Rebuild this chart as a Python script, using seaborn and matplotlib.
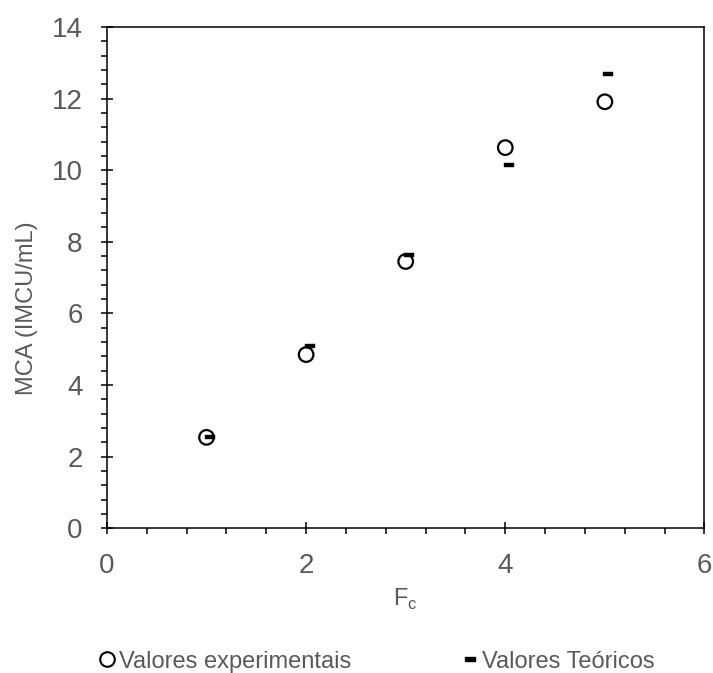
import matplotlib
matplotlib.use("Agg")
import matplotlib.pyplot as plt
import matplotlib.transforms as mtransforms
from matplotlib.ticker import MultipleLocator
from matplotlib.lines import Line2D
import seaborn as sns
import pandas as pd
import numpy as np

fc = [1, 2, 3, 4, 5]
mca_exp = [2.54, 4.85, 7.45, 10.63, 11.91]
mca_teo = [2.54, 5.08, 7.64, 10.15, 12.69]
label_exp = "Valores experimentais"
label_teo = "Valores Teóricos"
x_ticks = [0, 2, 4, 6]
y_ticks = [0, 2, 4, 6, 8, 10, 12, 14]

sns.set_theme(style="white")
plt.rcParams['font.family'] = ['Liberation Sans', 'DejaVu Sans']
plt.rcParams['mathtext.fontset'] = 'custom'
plt.rcParams['mathtext.rm'] = 'Liberation Sans'

df_exp = pd.DataFrame({"Fc": fc, "MCA": mca_exp})
df_teo = pd.DataFrame({"Fc": fc, "MCA": mca_teo})

fig = plt.figure(figsize=(7.13, 6.73), dpi=100)
ax = fig.add_axes([0.150, 0.215, 0.838, 0.745])

grey = "#595959"
dash_verts = [(-1, -0.42), (1, -0.42), (1, 0.42), (-1, 0.42), (-1, -0.42)]

sns.scatterplot(data=df_exp, x="Fc", y="MCA", ax=ax, marker="o", s=110,
                facecolors="none", edgecolor="black", linewidth=1.6, zorder=3)
sns.scatterplot(data=df_teo, x="Fc", y="MCA", ax=ax, marker=dash_verts, s=45,
                color="black", edgecolor="black", linewidth=0.3, zorder=4)
ax.collections[1].set_offset_transform(
    mtransforms.offset_copy(ax.transData, fig=fig, x=2.6, y=0, units='points'))

ax.set_xlim(0, 6)
ax.set_ylim(0, 14)
ax.set_xticks(x_ticks)
ax.set_yticks(y_ticks)
ax.xaxis.set_minor_locator(MultipleLocator(0.4))
ax.yaxis.set_minor_locator(MultipleLocator(0.4))
ax.tick_params(axis='both', which='major', direction='inout', length=9, width=1.1,
               color='black', labelsize=20, labelcolor=grey, pad=13,
               bottom=True, left=True)
ax.tick_params(axis='both', which='minor', direction='out', length=4.5, width=1.1,
               color='black', bottom=True, left=True)
for s in ax.spines.values():
    s.set_color('black')
    s.set_linewidth(1.1)

ax.set_xlabel(r"F$_\mathregular{c}$", fontsize=17, color=grey, labelpad=6)
ax.set_ylabel("MCA (IMCU/mL)", fontsize=17, color=grey, labelpad=10)
ax.yaxis.label.set_y(0.44)

handles = [
    Line2D([], [], linestyle='none', marker='o', markersize=10.5,
           markerfacecolor='none', markeredgecolor='black', markeredgewidth=1.5),
    Line2D([], [], linestyle='none', marker=dash_verts, markersize=6.5,
           color='black'),
]
leg = fig.legend(handles, [label_exp, label_teo], loc='center',
                 bbox_to_anchor=(0.528, 0.017), ncol=2, frameon=False,
                 fontsize=17, handlelength=0.7, handletextpad=0.15,
                 columnspacing=4.7, labelcolor=grey, borderpad=0)

fig.savefig("out.png", dpi=100)
